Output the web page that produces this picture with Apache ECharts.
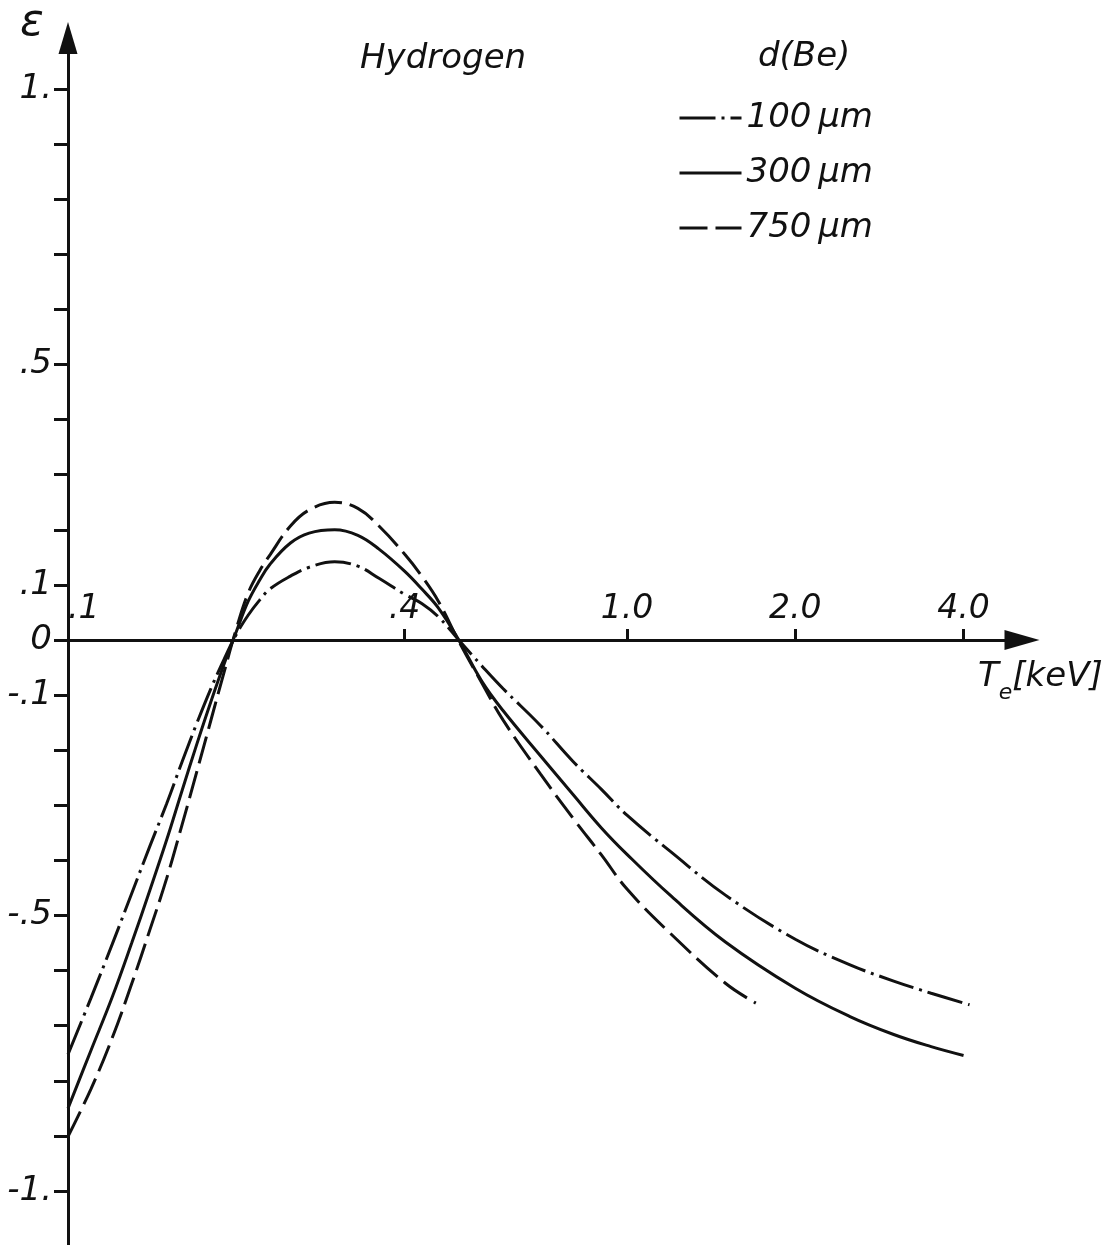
<!DOCTYPE html>
<html>
<head>
<meta charset="utf-8">
<script src="https://cdn.jsdelivr.net/npm/echarts@6/dist/echarts.min.js"></script>
<style>
html,body{margin:0;padding:0;background:#fff;}
#c{width:1105px;height:1245px;}
</style>
</head>
<body>
<div id="c"></div>
<script>
// ---- data ----
const seriesNames = ['100\u2009µm', '300\u2009µm', '750\u2009µm'];

const temp100 = [0.1, 0.11, 0.12, 0.13, 0.14, 0.15, 0.16, 0.17, 0.18, 0.19, 0.2, 0.21, 0.22, 0.23, 0.25, 0.27, 0.3, 0.33, 0.36, 0.4, 0.43, 0.46, 0.5, 0.55, 0.6, 0.7, 0.8, 0.9, 1.0, 1.2, 1.5, 2.0, 2.5, 3.0, 3.5, 4.1];
const eps100  = [-0.752, -0.649, -0.552, -0.46, -0.375, -0.298, -0.221, -0.151, -0.089, -0.036, 0.01, 0.045, 0.072, 0.093, 0.116, 0.132, 0.142, 0.134, 0.112, 0.083, 0.066, 0.042, 0.0, -0.047, -0.088, -0.155, -0.22, -0.271, -0.318, -0.385, -0.463, -0.543, -0.589, -0.619, -0.641, -0.662];

const temp300 = [0.1, 0.11, 0.12, 0.13, 0.14, 0.15, 0.16, 0.17, 0.18, 0.19, 0.2, 0.21, 0.22, 0.23, 0.25, 0.27, 0.3, 0.33, 0.36, 0.4, 0.43, 0.46, 0.5, 0.55, 0.6, 0.7, 0.8, 0.9, 1.0, 1.2, 1.5, 2.0, 2.5, 3.0, 3.5, 4.0];
const eps300  = [-0.85, -0.744, -0.648, -0.55, -0.455, -0.364, -0.273, -0.189, -0.113, -0.045, 0.015, 0.07, 0.108, 0.138, 0.176, 0.194, 0.2, 0.19, 0.165, 0.125, 0.092, 0.058, 0.0, -0.075, -0.128, -0.21, -0.28, -0.341, -0.389, -0.465, -0.548, -0.632, -0.683, -0.716, -0.738, -0.754];

const temp750 = [0.1, 0.11, 0.12, 0.13, 0.14, 0.15, 0.16, 0.17, 0.18, 0.19, 0.2, 0.21, 0.22, 0.23, 0.25, 0.27, 0.3, 0.33, 0.36, 0.4, 0.43, 0.46, 0.5, 0.55, 0.6, 0.7, 0.8, 0.9, 1.0, 1.2, 1.5, 1.7];
const eps750  = [-0.901, -0.814, -0.722, -0.624, -0.527, -0.434, -0.335, -0.239, -0.147, -0.06, 0.02, 0.085, 0.125, 0.155, 0.207, 0.236, 0.25, 0.239, 0.207, 0.156, 0.115, 0.07, -0.002, -0.078, -0.145, -0.243, -0.323, -0.39, -0.452, -0.534, -0.623, -0.659];

const xTickValues  = [0.4, 1, 2, 4];
const xLabelValues = [0.1, 0.4, 1, 2, 4];
const xLabelTexts  = ['.1', '.4', '1.0', '2.0', '4.0'];

const yTickValues  = [-1, -0.9, -0.8, -0.7, -0.6, -0.5, -0.4, -0.3, -0.2, -0.1, 0, 0.1, 0.2, 0.3, 0.4, 0.5, 0.6, 0.7, 0.8, 0.9, 1];
const yLabelValues = [1, 0.5, 0.1, 0, -0.1, -0.5, -1];
const yLabelTexts  = ['1.', '.5', '.1', '0', '-.1', '-.5', '-1.'];

// ---- styling ----
const INK = '#111';
const FONT = 'DejaVu Sans';
const txt = (size) => ({fontSize: size, fontStyle: 'italic', fontWeight: 'normal', color: INK, fontFamily: FONT});

function pick(values, texts, v) {
  for (let i = 0; i < values.length; i++) {
    if (Math.abs(values[i] - v) < 1e-6) return texts[i];
  }
  return '';
}
function pairs(xs, ys) { return xs.map((x, i) => [x, ys[i]]); }

const Y_MIN = -1.098, Y_MAX = 1.0926;
const GRID_TOP = 38, GRID_BOTTOM = 0, H = 1245;
// x axis sits at eps = 0: offset from grid bottom in pixels, derived from the y scale
const plotH = H - GRID_TOP - GRID_BOTTOM;
const zeroOffset = -plotH * (0 - Y_MIN) / (Y_MAX - Y_MIN);

const chart = echarts.init(document.getElementById('c'), null, {renderer: 'canvas'});
chart.setOption({
  animation: false,
  backgroundColor: '#fff',
  grid: {left: 68, right: 83, top: GRID_TOP, bottom: GRID_BOTTOM, containLabel: false},
  title: [
    {text: 'Hydrogen', left: 360, top: 42, padding: 0, textStyle: txt(34)},
    {text: 'd(Be)', left: 758, top: 40, padding: 0, textStyle: txt(34)},
    {text: 'ε', left: 20, top: 2, padding: 0, textStyle: txt(44)},
    {text: '{t|T}{s|e}{t|[keV]}', left: 978, top: 660, padding: 0,
     textStyle: Object.assign(txt(34), {rich: {
       t: Object.assign(txt(34), {lineHeight: 44, verticalAlign: 'top'}),
       s: Object.assign(txt(22), {lineHeight: 44, verticalAlign: 'bottom'})
     }})}
  ],
  legend: {
    data: seriesNames,
    orient: 'vertical',
    left: 678, top: 98,
    itemWidth: 62, itemHeight: 14, itemGap: 15,
    selectedMode: false,
    padding: 0,
    itemStyle: {opacity: 0, borderWidth: 0},
    lineStyle: {width: 3},
    textStyle: Object.assign(txt(34), {lineHeight: 40})
  },
  xAxis: {
    type: 'log',
    min: 0.1, max: 5.089,
    position: 'bottom',
    offset: zeroOffset,
    axisLine: {onZero: false, symbol: ['none', 'triangle'], symbolSize: [20, 35], lineStyle: {color: INK, width: 3}},
    axisTick: {show: true, inside: true, length: 11, customValues: xTickValues, lineStyle: {color: INK, width: 3}},
    axisLabel: {show: true, inside: true, margin: 14, customValues: xLabelValues, alignMinLabel: 'left',
      formatter: (v) => pick(xLabelValues, xLabelTexts, v), ...txt(33)},
    splitLine: {show: false},
    minorTick: {show: false}
  },
  yAxis: {
    type: 'value',
    min: Y_MIN, max: Y_MAX,
    axisLine: {show: true, symbol: ['none', 'triangle'], symbolSize: [19, 32], lineStyle: {color: INK, width: 3}},
    axisTick: {show: true, inside: false, length: 14, customValues: yTickValues, lineStyle: {color: INK, width: 3}},
    axisLabel: {show: true, margin: 16, customValues: yLabelValues,
      formatter: (v) => pick(yLabelValues, yLabelTexts, v), ...txt(34)},
    splitLine: {show: false}
  },
  series: [
    {name: seriesNames[0], type: 'line', data: pairs(temp100, eps100), smooth: 0.4, symbol: 'none', showSymbol: false,
     lineStyle: {color: INK, width: 3, type: [36, 6, 3, 6]}, itemStyle: {color: INK}},
    {name: seriesNames[1], type: 'line', data: pairs(temp300, eps300), smooth: 0.4, symbol: 'none', showSymbol: false,
     lineStyle: {color: INK, width: 3, type: 'solid'}, itemStyle: {color: INK}},
    {name: seriesNames[2], type: 'line', data: pairs(temp750, eps750), smooth: 0.4, symbol: 'none', showSymbol: false,
     lineStyle: {color: INK, width: 3, type: [28, 8]}, itemStyle: {color: INK}}
  ]
});
</script>
</body>
</html>
